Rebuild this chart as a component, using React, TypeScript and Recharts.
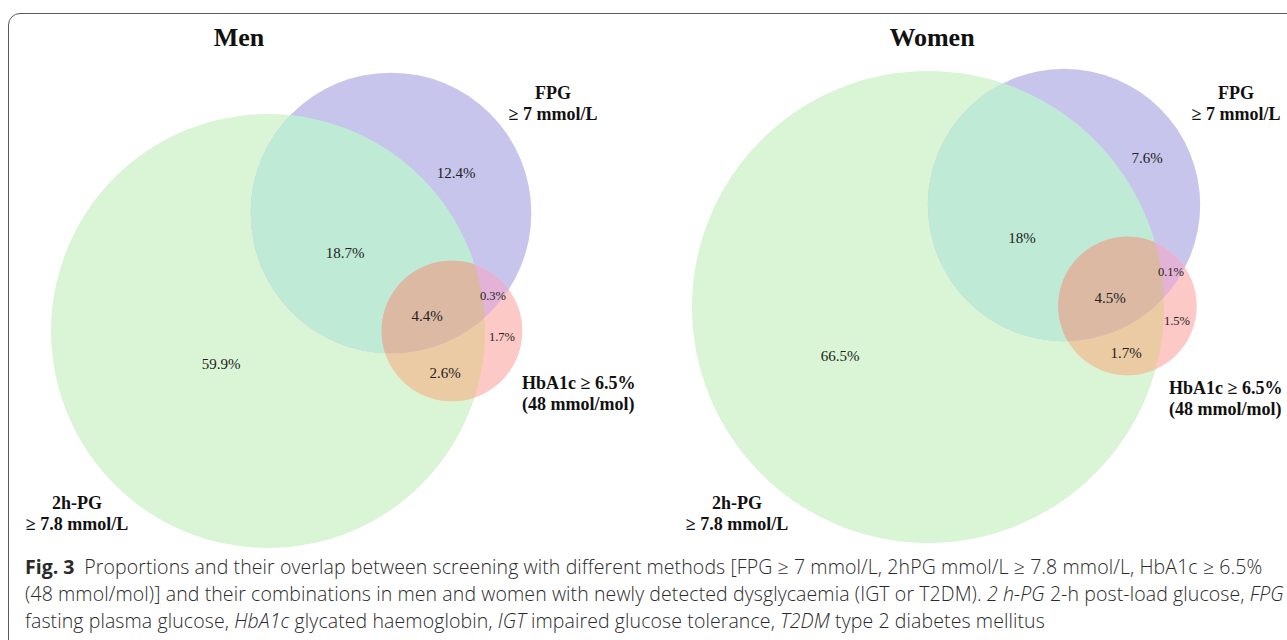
import React from "react";
import { ScatterChart, Scatter, XAxis, YAxis, ZAxis } from "recharts";

// region shares (%) of each screening combination
// g = 2h-PG, p = FPG, h = HbA1c ; x/y = label spot in layout units
const menRegions = [
  { key: "g", value: 59.9, x: 22.1, y: 36.4 },
  { key: "p", value: 12.4, x: 45.6, y: 17.3 },
  { key: "gp", value: 18.7, x: 34.5, y: 25.3 },
  { key: "gph", value: 4.4, x: 42.7, y: 31.6 },
  { key: "ph", value: 0.3, x: 49.3, y: 29.6 },
  { key: "h", value: 1.7, x: 50.2, y: 33.7 },
  { key: "gh", value: 2.6, x: 44.5, y: 37.3 },
];

const womenRegions = [
  { key: "g", value: 66.5, x: 84.0, y: 35.6 },
  { key: "p", value: 7.6, x: 114.7, y: 15.8 },
  { key: "gp", value: 18, x: 102.2, y: 23.8 },
  { key: "gph", value: 4.5, x: 111.0, y: 29.8 },
  { key: "ph", value: 0.1, x: 117.1, y: 27.2 },
  { key: "h", value: 1.5, x: 117.7, y: 32.1 },
  { key: "gh", value: 1.7, x: 112.6, y: 35.3 },
];

// circle centres from the venn layout
const menCentres = { g: { x: 26.8, y: 33.1 }, p: { x: 39.1, y: 21.3 }, h: { x: 45.2, y: 33.1 } };
const womenCentres = { g: { x: 92.8, y: 30.7 }, p: { x: 106.4, y: 20.5 }, h: { x: 112.75, y: 30.6 } };

const menSetLabels = [
  { x: 55.3, y: 9.3, lines: ["FPG", "≥ 7 mmol/L"], anchor: "middle" },
  { x: 52.2, y: 38.3, lines: ["HbA1c ≥ 6.5%", "(48 mmol/mol)"], anchor: "start" },
  { x: 7.7, y: 50.3, lines: ["2h-PG", "≥ 7.8 mmol/L"], anchor: "middle" },
];

const womenSetLabels = [
  { x: 123.6, y: 9.3, lines: ["FPG", "≥ 7 mmol/L"], anchor: "middle" },
  { x: 116.9, y: 38.8, lines: ["HbA1c ≥ 6.5%", "(48 mmol/mol)"], anchor: "start" },
  { x: 73.7, y: 50.3, lines: ["2h-PG", "≥ 7.8 mmol/L"], anchor: "middle" },
];

const setKeys = ["g", "p", "h"];

const colors: Record<string, string> = {
  g: "#d9f5d6",
  p: "#c8c5ec",
  h: "#fdc9c6",
  gp: "#bfead6",
  gh: "#ebcba3",
  ph: "#e2b3d6",
  gph: "#dcb9a3",
};

// overlaps are drawn as the later circle clipped by the others
const overlaps = [
  { key: "gp", circle: "p", clips: ["g"] },
  { key: "gh", circle: "h", clips: ["g"] },
  { key: "ph", circle: "h", clips: ["p"] },
  { key: "gph", circle: "h", clips: ["g", "p"] },
];

const setSize = (regions: any[], k: string) =>
  regions.filter((r) => r.key.includes(k)).reduce((s, r) => s + r.value, 0);

const buildCircles = (panel: string, regions: any[], centres: any) =>
  setKeys.map((k) => ({
    x: centres[k].x,
    y: centres[k].y,
    z: setSize(regions, k),
    fill: colors[k],
    clipId: `${panel}-${k}`,
  }));

const buildOverlaps = (panel: string, regions: any[], centres: any) =>
  overlaps.map((o) => ({
    x: centres[o.circle].x,
    y: centres[o.circle].y,
    z: setSize(regions, o.circle),
    fill: colors[o.key],
    clips: o.clips.map((c) => `${panel}-${c}`),
  }));

const radiusOf = (props: any) =>
  props.width ? props.width / 2 : Math.sqrt(Math.max(props.size || 0, 0) / Math.PI);

const CircleShape = (props: any) => {
  const { cx, cy, payload } = props;
  const r = radiusOf(props);
  return (
    <g>
      <defs>
        <clipPath id={payload.clipId}>
          <circle cx={cx} cy={cy} r={r} />
        </clipPath>
      </defs>
      <circle cx={cx} cy={cy} r={r} fill={payload.fill} />
    </g>
  );
};

const OverlapShape = (props: any) => {
  const { cx, cy, payload } = props;
  const r = radiusOf(props);
  let node = <circle cx={cx} cy={cy} r={r} fill={payload.fill} />;
  payload.clips.forEach((c: string) => {
    node = <g clipPath={`url(#${c})`}>{node}</g>;
  });
  return node;
};

const ValueLabel = (props: any) => {
  const { cx, cy, payload } = props;
  const small = payload.value < 2 && payload.key !== "gh";
  return (
    <text
      x={cx}
      y={cy}
      dy="0.35em"
      textAnchor="middle"
      fontFamily="'Liberation Serif', 'Times New Roman', serif"
      fontSize={small ? 12.5 : 15}
      fill="#222"
    >
      {payload.value}%
    </text>
  );
};

const SetLabel = (props: any) => {
  const { cx, cy, payload } = props;
  return (
    <text
      x={cx}
      y={cy}
      textAnchor={payload.anchor}
      fontFamily="'Liberation Serif', 'Times New Roman', serif"
      fontWeight="bold"
      fontSize={18}
      fill="#111"
    >
      {payload.lines.map((l: string, i: number) => (
        <tspan key={i} x={cx} dy={i === 0 ? "0.35em" : 21}>
          {l}
        </tspan>
      ))}
    </text>
  );
};

const serif = "'Liberation Serif', 'Times New Roman', serif";

export default function App() {
  const menCircles = buildCircles("men", menRegions, menCentres);
  const womenCircles = buildCircles("women", womenRegions, womenCentres);
  const menOver = buildOverlaps("men", menRegions, menCentres);
  const womenOver = buildOverlaps("women", womenRegions, womenCentres);

  return (
    <div
      style={{
        position: "absolute",
        left: 0,
        top: 0,
        width: 1287,
        height: 640,
        overflow: "hidden",
        background: "#fff",
      }}
    >
      <div
        style={{
          position: "absolute",
          left: 8,
          top: 13,
          width: 1320,
          height: 700,
          border: "1.5px solid #5a5a5a",
          borderRadius: 12,
        }}
      />
      <div
        style={{
          position: "absolute",
          left: 0,
          top: 0,
        }}
      >
        <ScatterChart width={1287} height={580} margin={{ top: 0, right: 0, bottom: 0, left: 0 }}>
          <XAxis type="number" dataKey="x" domain={[0, 128.7]} hide allowDataOverflow />
          <YAxis type="number" dataKey="y" domain={[0, 58]} reversed hide allowDataOverflow />
          {/* area scales: men and women panels are normalised separately */}
          <ZAxis zAxisId="men" type="number" dataKey="z" domain={[0, 100]} range={[0, 172820]} />
          <ZAxis zAxisId="women" type="number" dataKey="z" domain={[0, 100]} range={[0, 192910]} />
          <Scatter data={menCircles} zAxisId="men" shape={CircleShape} isAnimationActive={false} />
          <Scatter data={menOver} zAxisId="men" shape={OverlapShape} isAnimationActive={false} />
          <Scatter data={womenCircles} zAxisId="women" shape={CircleShape} isAnimationActive={false} />
          <Scatter data={womenOver} zAxisId="women" shape={OverlapShape} isAnimationActive={false} />
          <Scatter data={menRegions} zAxisId="men" shape={ValueLabel} isAnimationActive={false} />
          <Scatter data={womenRegions} zAxisId="women" shape={ValueLabel} isAnimationActive={false} />
          <Scatter data={menSetLabels} zAxisId="men" shape={SetLabel} isAnimationActive={false} />
          <Scatter data={womenSetLabels} zAxisId="women" shape={SetLabel} isAnimationActive={false} />
        </ScatterChart>
      </div>
      <div
        style={{
          position: "absolute",
          left: 0,
          width: 478,
          top: 21,
          textAlign: "center",
          fontFamily: serif,
          fontWeight: "bold",
          fontSize: 26,
          lineHeight: "34px",
          color: "#111",
        }}
      >
        Men
      </div>
      <div
        style={{
          position: "absolute",
          left: 832,
          width: 200,
          top: 21,
          textAlign: "center",
          fontFamily: serif,
          fontWeight: "bold",
          fontSize: 26,
          lineHeight: "34px",
          color: "#111",
        }}
      >
        Women
      </div>
      <div
        style={{
          position: "absolute",
          left: 25,
          top: 553,
          fontFamily: "'Open Sans', 'Noto Sans', sans-serif",
          fontWeight: 300,
          fontSize: 19.5,
          letterSpacing: 0.1,
          lineHeight: "27px",
          color: "#2a2a2a",
          whiteSpace: "nowrap",
        }}
      >
        <div>
          <b style={{ fontWeight: 700, letterSpacing: 0 }}>Fig. 3</b>
          {"\u2002"}Proportions and their overlap between screening with different methods [FPG ≥ 7 mmol/L, 2hPG
          mmol/L ≥ 7.8 mmol/L, HbA1c ≥ 6.5%
        </div>
        <div>
          (48 mmol/mol)] and their combinations in men and women with newly detected dysglycaemia (IGT or T2DM).{" "}
          <i>2 h-PG</i> 2-h post-load glucose, <i>FPG</i>
        </div>
        <div>
          fasting plasma glucose, <i>HbA1c</i> glycated haemoglobin, <i>IGT</i> impaired glucose tolerance,{" "}
          <i>T2DM</i> type 2 diabetes mellitus
        </div>
      </div>
    </div>
  );
}
